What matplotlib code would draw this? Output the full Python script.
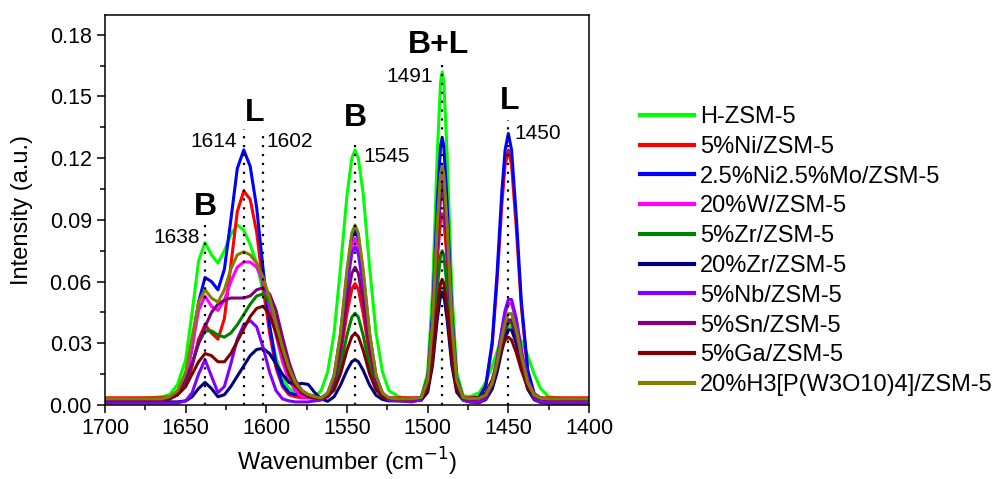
#!/usr/bin/env python
# -*- coding: utf-8 -*-
import matplotlib
matplotlib.use('Agg')
import matplotlib.pyplot as plt
from matplotlib.ticker import MultipleLocator, FormatStrFormatter

plt.rcParams['font.family'] = ['Liberation Sans', 'DejaVu Sans']

# wavenumber grid [cm-1]
wn = [1700, 1680, 1665,
      1660, 1655, 1650, 1646, 1642, 1638, 1634, 1630, 1626, 1622, 1618, 1614,
      1610, 1606, 1602, 1598, 1594, 1590, 1586, 1582, 1578, 1574, 1570,
      1566, 1562, 1558, 1554, 1550, 1547, 1545, 1543, 1540, 1536, 1532, 1528, 1524,
      1518, 1510,
      1504, 1500, 1497, 1494, 1492, 1491, 1490, 1488, 1485, 1482, 1478,
      1474,
      1468, 1464, 1460, 1457, 1454, 1452, 1450, 1448, 1445, 1442, 1438, 1434, 1430,
      1425, 1415, 1400]

h_zsm5 = [0.003, 0.003, 0.004,
          0.005, 0.010, 0.022, 0.045, 0.070, 0.079, 0.073, 0.069, 0.075, 0.083, 0.0875, 0.085,
          0.078, 0.069, 0.055, 0.038, 0.023, 0.013, 0.008, 0.006, 0.005, 0.004, 0.004,
          0.007, 0.016, 0.035, 0.067, 0.102, 0.120, 0.124, 0.120, 0.103, 0.067, 0.035, 0.016, 0.007,
          0.004, 0.003,
          0.0038, 0.0157, 0.055, 0.123, 0.157, 0.162, 0.157, 0.123, 0.055, 0.0157, 0.0045,
          0.004,
          0.006, 0.011, 0.019, 0.026, 0.033, 0.036, 0.038, 0.038, 0.036, 0.031, 0.024, 0.015, 0.008,
          0.004, 0.003, 0.003]

ni5 = [0.0035, 0.0035, 0.0035,
       0.004, 0.005, 0.009, 0.019, 0.032, 0.039, 0.035, 0.032, 0.042, 0.068, 0.094, 0.104,
       0.100, 0.084, 0.058, 0.035, 0.018, 0.009, 0.005, 0.004, 0.0035, 0.0035, 0.0035,
       0.0035, 0.0048, 0.0106, 0.0244, 0.0447, 0.0564, 0.059, 0.0564, 0.0447, 0.0244, 0.0106, 0.0048, 0.0035,
       0.0035, 0.0035,
       0.0035, 0.0102, 0.0323, 0.071, 0.0902, 0.093, 0.0902, 0.071, 0.0323, 0.0102, 0.0035,
       0.0035,
       0.0038, 0.0089, 0.029, 0.0599, 0.0976, 0.1167, 0.124, 0.1167, 0.0853, 0.0481, 0.0162, 0.0054, 0.0035,
       0.0035, 0.0035, 0.0035]

nimo = [0.003, 0.003, 0.003,
        0.003, 0.005, 0.012, 0.028, 0.050, 0.062, 0.060, 0.056, 0.066, 0.090, 0.115, 0.124,
        0.116, 0.096, 0.066, 0.039, 0.020, 0.010, 0.006, 0.005, 0.006, 0.005, 0.004,
        0.0034, 0.0057, 0.0141, 0.0344, 0.064, 0.0812, 0.085, 0.0812, 0.064, 0.0344, 0.0141, 0.0057, 0.0034,
        0.003, 0.003,
        0.0036, 0.0132, 0.0443, 0.0989, 0.126, 0.130, 0.126, 0.0989, 0.0443, 0.0132, 0.0036,
        0.003,
        0.0039, 0.0093, 0.0307, 0.0636, 0.104, 0.124, 0.132, 0.124, 0.0907, 0.0511, 0.0171, 0.0055, 0.0033,
        0.003, 0.003, 0.003]

w20 = [0.003, 0.003, 0.003,
       0.003, 0.005, 0.012, 0.028, 0.046, 0.053, 0.048, 0.046, 0.051, 0.060, 0.067, 0.0695,
       0.0695, 0.067, 0.060, 0.048, 0.034, 0.021, 0.012, 0.007, 0.004, 0.0035, 0.003,
       0.0034, 0.0056, 0.0135, 0.0329, 0.061, 0.0774, 0.081, 0.0774, 0.061, 0.0329, 0.0135, 0.0056, 0.0034,
       0.003, 0.003,
       0.0036, 0.0118, 0.0388, 0.086, 0.1096, 0.113, 0.1096, 0.086, 0.0388, 0.0118, 0.0036,
       0.003,
       0.0033, 0.0051, 0.0117, 0.0223, 0.0362, 0.0445, 0.0493, 0.0493, 0.0406, 0.0268, 0.0117, 0.0051, 0.0033,
       0.003, 0.003, 0.003]

zr5 = [0.0025, 0.0025, 0.0025,
       0.003, 0.006, 0.012, 0.020, 0.030, 0.036, 0.036, 0.034, 0.033, 0.035, 0.039, 0.044,
       0.049, 0.053, 0.054, 0.050, 0.041, 0.030, 0.019, 0.011, 0.007, 0.005, 0.004,
       0.0032, 0.0044, 0.0086, 0.0189, 0.034, 0.0427, 0.0446, 0.0427, 0.034, 0.0189, 0.0086, 0.0044, 0.0032,
       0.0025, 0.0025,
       0.003, 0.0088, 0.0264, 0.0574, 0.0728, 0.075, 0.0728, 0.0574, 0.0264, 0.0088, 0.003,
       0.0025,
       0.0032, 0.0047, 0.0100, 0.0184, 0.0295, 0.0361, 0.040, 0.040, 0.033, 0.022, 0.010, 0.0047, 0.0032,
       0.0025, 0.0025, 0.0025]

zr20 = [0.0015, 0.0015, 0.0015,
        0.0015, 0.0015, 0.002, 0.004, 0.008, 0.011, 0.008, 0.004, 0.005, 0.009, 0.014, 0.019,
        0.024, 0.027, 0.0275, 0.025, 0.020, 0.015, 0.011, 0.010, 0.0105, 0.010, 0.006,
        0.003, 0.0018, 0.004, 0.0097, 0.0169, 0.0211, 0.022, 0.0211, 0.0169, 0.0097, 0.0047, 0.0027, 0.002,
        0.002, 0.002,
        0.0023, 0.0062, 0.0192, 0.042, 0.0534, 0.055, 0.0534, 0.042, 0.0192, 0.0062, 0.0023,
        0.0015,
        0.0012, 0.0026, 0.0077, 0.0158, 0.0265, 0.0328, 0.0365, 0.0365, 0.0298, 0.0192, 0.0077, 0.0026, 0.0012,
        0.001, 0.001, 0.001]

nb5 = [0.001, 0.001, 0.001,
       0.001, 0.001, 0.002, 0.006, 0.015, 0.022, 0.014, 0.006, 0.009, 0.020, 0.032, 0.039,
       0.041, 0.038, 0.028, 0.016, 0.007, 0.003, 0.002, 0.0015, 0.0015, 0.0015, 0.002,
       0.0024, 0.0045, 0.0121, 0.0307, 0.0578, 0.0736, 0.077, 0.0736, 0.0578, 0.0307, 0.0121, 0.0045, 0.0024,
       0.002, 0.0015,
       0.0025, 0.0102, 0.0352, 0.079, 0.1008, 0.104, 0.1008, 0.079, 0.0352, 0.0102, 0.0025,
       0.0015,
       0.0013, 0.0032, 0.0105, 0.022, 0.037, 0.046, 0.0513, 0.0513, 0.0418, 0.0268, 0.0105, 0.0032, 0.0013,
       0.001, 0.001, 0.001]

sn5 = [0.0025, 0.0025, 0.0025,
       0.003, 0.006, 0.012, 0.020, 0.030, 0.038, 0.045, 0.049, 0.051, 0.052, 0.052, 0.052,
       0.053, 0.056, 0.057, 0.054, 0.046, 0.033, 0.021, 0.012, 0.007, 0.005, 0.004,
       0.0033, 0.0051, 0.0116, 0.0275, 0.0506, 0.064, 0.067, 0.064, 0.0506, 0.0275, 0.0116, 0.0051, 0.0033,
       0.0025, 0.0025,
       0.0035, 0.0114, 0.0371, 0.0823, 0.1047, 0.108, 0.1047, 0.0823, 0.0371, 0.0114, 0.0035,
       0.0025,
       0.0028, 0.0042, 0.0098, 0.0187, 0.0304, 0.0373, 0.0414, 0.0414, 0.0341, 0.0225, 0.0098, 0.0042, 0.0028,
       0.0025, 0.0025, 0.0025]

ga5 = [0.003, 0.003, 0.003,
       0.003, 0.005, 0.009, 0.015, 0.021, 0.025, 0.024, 0.021, 0.021, 0.025, 0.031, 0.037,
       0.043, 0.047, 0.048, 0.044, 0.035, 0.025, 0.015, 0.009, 0.006, 0.004, 0.0035,
       0.0032, 0.0040, 0.0073, 0.0152, 0.0267, 0.0333, 0.0348, 0.0333, 0.0267, 0.0152, 0.0073, 0.0040, 0.0032,
       0.003, 0.003,
       0.0033, 0.0076, 0.0219, 0.0468, 0.0592, 0.061, 0.0592, 0.0468, 0.0219, 0.0076, 0.0033,
       0.003,
       0.0036, 0.0059, 0.0122, 0.0198, 0.0278, 0.0316, 0.033, 0.0316, 0.0253, 0.0171, 0.0085, 0.0044, 0.0033,
       0.003, 0.003, 0.003]

hpw = [0.003, 0.003, 0.003,
       0.004, 0.007, 0.016, 0.033, 0.050, 0.056, 0.052, 0.050, 0.056, 0.066, 0.073, 0.0745,
       0.073, 0.069, 0.062, 0.052, 0.040, 0.028, 0.018, 0.011, 0.007, 0.005, 0.004,
       0.0034, 0.0058, 0.0144, 0.035, 0.066, 0.0836, 0.0875, 0.0836, 0.066, 0.035, 0.0144, 0.0058, 0.0034,
       0.003, 0.003,
       0.0036, 0.012, 0.0397, 0.0883, 0.1125, 0.116, 0.1125, 0.0883, 0.0397, 0.012, 0.0036,
       0.003,
       0.0033, 0.0048, 0.0108, 0.0203, 0.0327, 0.040, 0.0444, 0.0444, 0.0366, 0.0243, 0.0108, 0.0048, 0.0033,
       0.003, 0.003, 0.003]

labels = ['H-ZSM-5', '5%Ni/ZSM-5', '2.5%Ni2.5%Mo/ZSM-5', '20%W/ZSM-5', '5%Zr/ZSM-5',
          '20%Zr/ZSM-5', '5%Nb/ZSM-5', '5%Sn/ZSM-5', '5%Ga/ZSM-5', '20%H3[P(W3O10)4]/ZSM-5']
colors = ['#00ff00', '#ff0000', '#0000ff', '#ff00ff', '#008000',
          '#000080', '#8000ff', '#800080', '#800000', '#808000']
series = [h_zsm5, ni5, nimo, w20, zr5, zr20, nb5, sn5, ga5, hpw]

# band positions, top of dotted marker
bands = [1638, 1614, 1602, 1545, 1491, 1450]
band_tops = [0.0875, 0.134, 0.132, 0.128, 0.168, 0.1385]

fig = plt.figure(figsize=(9.97, 4.79), dpi=100)
ax = fig.add_axes([105 / 997., 1 - 405 / 479., 484 / 997., 390 / 479.])

for y, c, lab in zip(series, colors, labels):
    ax.plot(wn, y, color=c, lw=2.2, label=lab)

for b, top in zip(bands, band_tops):
    ax.plot([b, b], [0, top], color='black', lw=1.6, ls=(0, (1, 3)))

# band labels
ax.text(1641, 0.0812, '1638', fontsize=15, ha='right', va='center')
ax.text(1638, 0.0965, 'B', fontsize=23, fontweight='bold', ha='center', va='center')
ax.text(1618, 0.1283, '1614', fontsize=15, ha='right', va='center')
ax.text(1607.5, 0.142, 'L', fontsize=23, fontweight='bold', ha='center', va='center')
ax.text(1600, 0.1283, '1602', fontsize=15, ha='left', va='center')
ax.text(1545, 0.1395, 'B', fontsize=23, fontweight='bold', ha='center', va='center')
ax.text(1540, 0.1206, '1545', fontsize=15, ha='left', va='center')
ax.text(1493.5, 0.175, 'B+L', fontsize=23, fontweight='bold', ha='center', va='center')
ax.text(1496.5, 0.1595, '1491', fontsize=15, ha='right', va='center')
ax.text(1449, 0.148, 'L', fontsize=23, fontweight='bold', ha='center', va='center')
ax.text(1446.5, 0.132, '1450', fontsize=15, ha='left', va='center')

ax.set_xlim(1700, 1400)
ax.set_ylim(0, 0.1896)
ax.xaxis.set_major_locator(MultipleLocator(50))
ax.xaxis.set_minor_locator(MultipleLocator(25))
ax.yaxis.set_major_locator(MultipleLocator(0.03))
ax.yaxis.set_minor_locator(MultipleLocator(0.015))
ax.yaxis.set_major_formatter(FormatStrFormatter('%.2f'))
ax.tick_params(which='major', direction='out', length=6, width=1.1, labelsize=15.5)
ax.tick_params(which='minor', direction='out', length=3.5, width=1.1)
for s in ax.spines.values():
    s.set_linewidth(1.1)

ax.set_xlabel('Wavenumber (cm$^{-1}$)', fontsize=17, labelpad=5)
ax.set_ylabel('Intensity (a.u.)', fontsize=17, labelpad=12)

leg = fig.legend(loc='upper left', bbox_to_anchor=(640 / 997., 1 - 106 / 479.),
                 frameon=False, fontsize=17, handlelength=2.3, handletextpad=0.25,
                 labelspacing=0.33, borderpad=0, borderaxespad=0)
for h in leg.get_lines():
    h.set_linewidth(3)

fig.savefig('out.png', dpi=100)
